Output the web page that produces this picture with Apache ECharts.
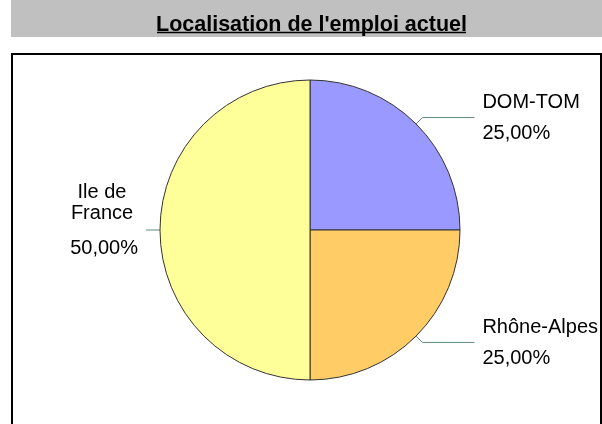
<!DOCTYPE html>
<html>
<head>
<meta charset="utf-8">
<script src="https://cdn.jsdelivr.net/npm/echarts@6/dist/echarts.min.js"></script>
<style>
html,body{margin:0;padding:0;background:#fff;}
#chart{width:602px;height:424px;}
</style>
</head>
<body>
<div id="chart"></div>
<script>
var titleText = "Localisation de l'emploi actuel";
var categories = ['DOM-TOM', 'Rhône-Alpes', 'Ile de France'];
var values = [1, 1, 2];
var colors = ['#9999ff', '#ffcc66', '#ffff99'];

var FONT = '"Liberation Sans", Arial, sans-serif';

function fmtPct(p) {
  return p.toFixed(2).replace('.', ',') + '%';
}

var lineCfg = [
  {length: 9, length2: 52},
  {length: 9, length2: 52},
  {length: 3, length2: 11}
];

var data = categories.map(function (c, i) {
  var item = {
    name: c,
    value: values[i],
    itemStyle: {color: colors[i]},
    labelLine: {length: lineCfg[i].length, length2: lineCfg[i].length2}
  };
  if (i === 2) {
    item.label = {
      rich: {
        n: {fontSize: 20, fontFamily: FONT, color: '#000', lineHeight: 21, width: 64, align: 'center'},
        p: {fontSize: 20, fontFamily: FONT, color: '#000', lineHeight: 49, width: 72, align: 'right'}
      }
    };
  }
  return item;
});

var chart = echarts.init(document.getElementById('chart'), null, {renderer: 'canvas'});
chart.setOption({
  animation: false,
  backgroundColor: '#ffffff',
  graphic: [
    {type: 'rect', z: -10, shape: {x: 11, y: 0, width: 591, height: 37}, style: {fill: '#c0c0c0'}},
    {type: 'rect', z: -10, shape: {x: 12, y: 54, width: 589, height: 400}, style: {fill: 'none', stroke: '#000', lineWidth: 2}},
    {type: 'line', z: 10, shape: {x1: 157, y1: 32.5, x2: 466, y2: 32.5}, style: {stroke: '#000', lineWidth: 1.5}}
  ],
  title: {
    text: titleText,
    left: 306.5,
    textAlign: 'center',
    top: 9,
    textStyle: {fontFamily: FONT, fontSize: 21.5, fontWeight: 'bold', color: '#000', lineHeight: 22}
  },
  series: [{
    type: 'pie',
    center: [310, 230],
    radius: 150,
    startAngle: 90,
    clockwise: true,
    avoidLabelOverlap: false,
    emphasis: {disabled: true},
    itemStyle: {borderColor: '#333', borderWidth: 1},
    label: {
      show: true,
      position: 'outside',
      distanceToLabelLine: 8,
      formatter: function (p) {
        var nm = p.name.replace('Ile de ', 'Ile de\n');
        var lines = nm.split('\n').map(function (s) { return '{n|' + s + '}'; });
        return lines.join('\n') + '\n{p|' + fmtPct(p.percent) + '}';
      },
      rich: {
        n: {fontSize: 20, fontFamily: FONT, color: '#000', lineHeight: 32},
        p: {fontSize: 20, fontFamily: FONT, color: '#000', lineHeight: 30}
      }
    },
    labelLayout: function (params) {
      if (params.dataIndex === 2) {
        return {dy: -3};
      }
    },
    labelLine: {
      show: true,
      smooth: false,
      lineStyle: {color: '#5e8d7e', width: 1}
    },
    data: data
  }]
});
</script>
</body>
</html>
